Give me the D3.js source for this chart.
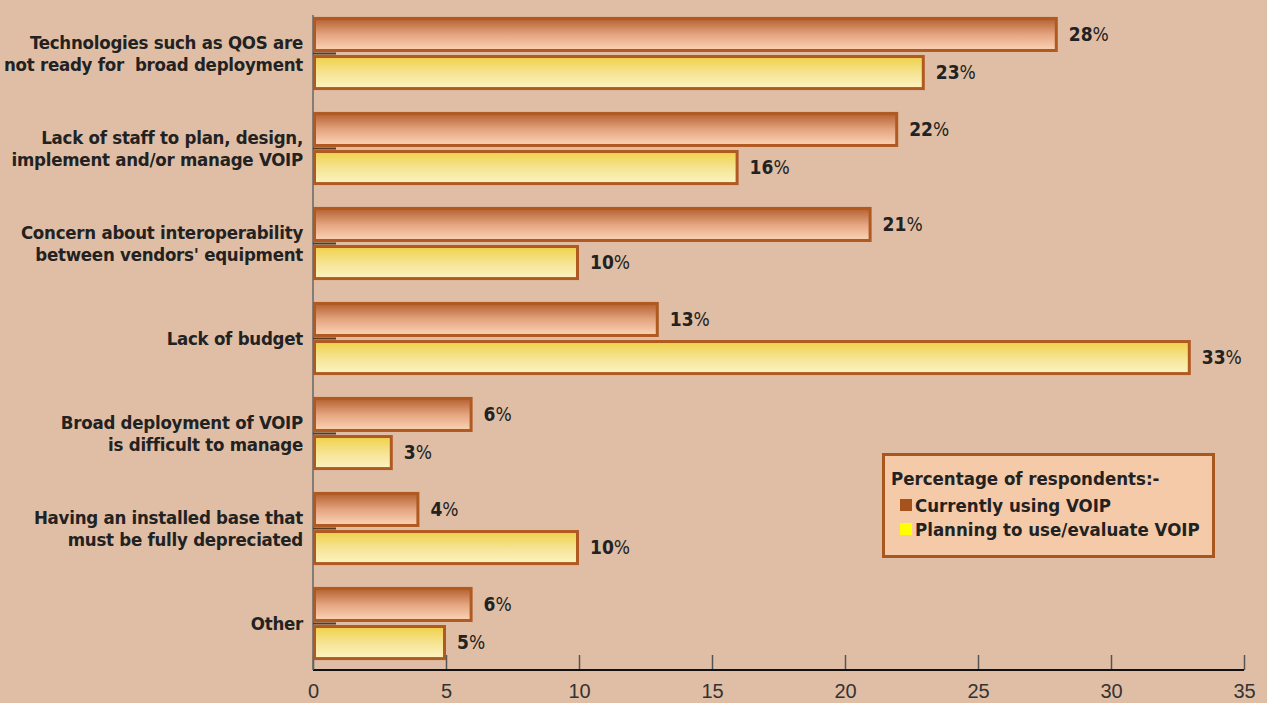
<!DOCTYPE html>
<html>
<head>
<meta charset="utf-8">
<script src="https://cdn.jsdelivr.net/npm/d3@7"></script>
<style>
  body { margin: 0; background: #e0bea5; }
  svg { display: block; }
  .cat { font-family: "DejaVu Sans", sans-serif; font-stretch: condensed; font-weight: bold; font-size: 18.5px; letter-spacing: -0.25px; fill: #222; white-space: pre; }
  .leg { font-family: "DejaVu Sans", sans-serif; font-stretch: condensed; font-weight: bold; font-size: 18.5px; fill: #222; }
  .val { font-family: "DejaVu Sans", sans-serif; font-stretch: condensed; font-size: 19px; fill: #222; }
  .tick text { font-family: "Liberation Sans", Arial, sans-serif; font-size: 20px; fill: #333; }
</style>
</head>
<body>
<div id="chart"></div>
<script>
// chart data
var categories = [
  "Technologies such as QOS are|not ready for  broad deployment",
  "Lack of staff to plan, design,|implement and/or manage VOIP",
  "Concern about interoperability|between vendors' equipment",
  "Lack of budget",
  "Broad deployment of VOIP|is difficult to manage",
  "Having an installed base that|must be fully depreciated",
  "Other"
];
var currentlyUsing = [28, 22, 21, 13, 6, 4, 6];
var planningToUse = [23, 16, 10, 33, 3, 10, 5];
var seriesNames = ["Currently using VOIP", "Planning to use/evaluate VOIP"];
var xTicks = [0, 5, 10, 15, 20, 25, 30, 35];

var svgWidth = 1267;
var svgHeight = 703;
var margin = { top: 6, right: 23, bottom: 32, left: 313 };

var svg = d3.select("#chart")
  .append("svg")
  .attr("width", svgWidth)
  .attr("height", svgHeight);

// gradients for the bars
var defs = svg.append("defs");
var gOrange = defs.append("linearGradient").attr("id", "gOrange")
  .attr("x1", 0).attr("y1", 0).attr("x2", 0).attr("y2", 1);
gOrange.append("stop").attr("offset", "0%").attr("stop-color", "#b5602f");
gOrange.append("stop").attr("offset", "50%").attr("stop-color", "#e4a47f");
gOrange.append("stop").attr("offset", "100%").attr("stop-color", "#fcd5b8");
var gYellow = defs.append("linearGradient").attr("id", "gYellow")
  .attr("x1", 0).attr("y1", 0).attr("x2", 0).attr("y2", 1);
gYellow.append("stop").attr("offset", "0%").attr("stop-color", "#f0d048");
gYellow.append("stop").attr("offset", "55%").attr("stop-color", "#f6e598");
gYellow.append("stop").attr("offset", "100%").attr("stop-color", "#fcf3c2");

var fills = ["url(#gOrange)", "url(#gYellow)"];

var x = d3.scaleLinear()
  .domain([0, 35])
  .range([margin.left, svgWidth - margin.right]);

var y = d3.scaleBand()
  .domain(d3.range(categories.length))
  .range([margin.top, svgHeight - margin.bottom])
  .paddingInner(0.23)
  .paddingOuter(0.115);

var ySub = d3.scaleBand()
  .domain([0, 1])
  .range([0, y.bandwidth()])
  .paddingInner(0.08);

var rows = categories.map(function(c, i) {
  return { cat: c, i: i, values: [currentlyUsing[i], planningToUse[i]] };
});

var axisY = svgHeight - 33;

// x axis with upward ticks
var xAxis = svg.append("g")
  .attr("transform", `translate(0, ${axisY})`)
  .call(d3.axisBottom(x).tickValues(xTicks).tickSize(0).tickPadding(10));
xAxis.select(".domain").remove();
xAxis.selectAll(".tick text").attr("dy", "0.9em");
xAxis.selectAll(".tick").append("line")
  .attr("y1", 0).attr("y2", -15)
  .attr("stroke", "#555").attr("stroke-width", 1.5);
svg.append("line")
  .attr("x1", x(0)).attr("x2", x(35))
  .attr("y1", axisY).attr("y2", axisY)
  .attr("stroke", "#111").attr("stroke-width", 2);

// y axis line
svg.append("line")
  .attr("x1", x(0)).attr("x2", x(0))
  .attr("y1", 15).attr("y2", axisY)
  .attr("stroke", "#666").attr("stroke-width", 1.5);

var groups = svg.selectAll(".grp")
  .data(rows)
  .enter()
  .append("g")
  .attr("class", "grp")
  .attr("transform", d => `translate(0, ${y(d.i)})`);

groups.selectAll("rect")
  .data(d => d.values.map((v, k) => ({ v: v, k: k })))
  .enter()
  .append("rect")
  .attr("x", x(0) + 1.5)
  .attr("y", d => ySub(d.k) + 1.5)
  .attr("width", d => x(d.v) - x(0) - 3)
  .attr("height", ySub.bandwidth() - 3)
  .attr("fill", d => fills[d.k])
  .attr("stroke", "#b05a22")
  .attr("stroke-width", 3);

// small category tick between the two bars
groups.append("line")
  .attr("x1", x(0)).attr("x2", x(0) + 23)
  .attr("y1", y.bandwidth() / 2).attr("y2", y.bandwidth() / 2)
  .attr("stroke", "#5a3a22").attr("stroke-width", 2);

// value labels
var vals = groups.selectAll(".val")
  .data(d => d.values.map((v, k) => ({ v: v, k: k })))
  .enter()
  .append("text")
  .attr("class", "val")
  .attr("x", d => x(d.v) + 11)
  .attr("y", d => ySub(d.k) + ySub.bandwidth() / 2)
  .attr("dy", "0.35em");
vals.append("tspan").attr("font-weight", "bold").text(d => d.v);
vals.append("tspan").text("%");

// category labels
groups.each(function(d) {
  var lines = d.cat.split("|");
  var t = d3.select(this).append("text")
    .attr("class", "cat")
    .attr("text-anchor", "end")
    .attr("x", x(0) - 10)
    .attr("y", y.bandwidth() / 2);
  lines.forEach(function(l, j) {
    t.append("tspan")
      .attr("x", x(0) - 10)
      .attr("dy", j === 0 ? ((0.35 - (lines.length - 1) * 0.62) + "em") : "1.24em")
      .text(l);
  });
});

// legend
var legend = svg.append("g").attr("transform", "translate(882, 453)");
legend.append("rect")
  .attr("x", 1.5).attr("y", 1.5)
  .attr("width", 330).attr("height", 102)
  .attr("fill", "#f5caa8")
  .attr("stroke", "#a8581e")
  .attr("stroke-width", 3);
legend.append("text")
  .attr("class", "leg")
  .attr("x", 9).attr("y", 32)
  .text("Percentage of respondents:-");
var legendColors = ["#a5521c", "#ffff00"];
seriesNames.forEach(function(s, k) {
  legend.append("rect")
    .attr("x", 18).attr("y", 46 + k * 24)
    .attr("width", 12).attr("height", 12)
    .attr("fill", legendColors[k]);
  legend.append("text")
    .attr("class", "leg")
    .attr("x", 33).attr("y", 59 + k * 24)
    .text(s);
});
</script>
</body>
</html>
